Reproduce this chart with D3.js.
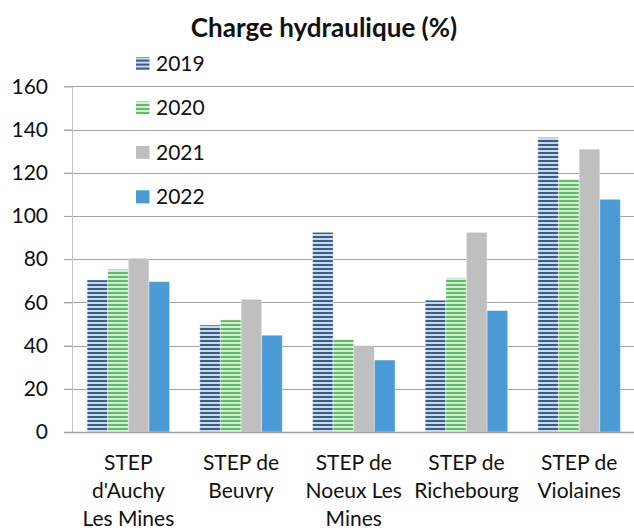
<!DOCTYPE html>
<html>
<head>
<meta charset="utf-8">
<script src="https://cdn.jsdelivr.net/npm/d3@7"></script>
<style>
  body { margin: 0; background: #fff; }
  svg { display: block; font-family: Lato, "Open Sans", sans-serif; }
</style>
</head>
<body>
<script>
// Chart values
var categories = ["STEP d'Auchy Les Mines", "STEP de Beuvry", "STEP de Noeux Les Mines", "STEP de Richebourg", "STEP de Violaines"];
var categoryLines = [["STEP", "d'Auchy", "Les Mines"], ["STEP de", "Beuvry"], ["STEP de", "Noeux Les", "Mines"], ["STEP de", "Richebourg"], ["STEP de", "Violaines"]];
var years = ["2019", "2020", "2021", "2022"];
var v2019 = [70.4, 49.5, 92.4, 61, 136.3];
var v2020 = [75.3, 51.9, 42.9, 71.4, 117];
var v2021 = [80.4, 61.4, 40, 92.4, 130.9];
var v2022 = [69.6, 44.8, 33.3, 56.2, 107.7];
var yTicks = [0, 20, 40, 60, 80, 100, 120, 140, 160];

var chartWidth = 634, chartHeight = 530;
var plotLeft = 72, plotRight = 635.5, plotTop = 86.3, plotBottom = 432;
var labelSize = 21;

var svg = d3.select('body').append('svg')
  .attr('width', chartWidth)
  .attr('height', chartHeight);

// striped fills for 2019 and 2020
var defs = svg.append('defs');
function stripes(id, dark, light) {
  var p = defs.append('pattern')
    .attr('id', id)
    .attr('patternUnits', 'userSpaceOnUse')
    .attr('width', 8).attr('height', 4);
  p.append('rect').attr('width', 8).attr('height', 4).attr('fill', light);
  p.append('rect').attr('width', 8).attr('height', 2).attr('fill', dark);
}
stripes('pat2019', '#3a5e86', '#c6d9ed');
stripes('pat2020', '#5fbb65', '#d4eed5');

var fills = ['url(#pat2019)', 'url(#pat2020)', '#bfbfbf', '#4a9bd5'];
var table = categories.map(function(c, i) {
  return { cat: c, values: [v2019[i], v2020[i], v2021[i], v2022[i]] };
});

var y = d3.scaleLinear().domain([0, 160]).range([plotBottom, plotTop]);
var x0 = d3.scaleBand().domain(categories).range([plotLeft, plotRight])
  .paddingInner(0.268).paddingOuter(0.134);
var x1 = d3.scaleBand().domain(years).range([0, x0.bandwidth()]);

// gridlines
svg.append('g').selectAll('line')
  .data(yTicks.slice(1))
  .enter().append('line')
  .attr('x1', 64).attr('x2', chartWidth)
  .attr('y1', function(d) { return Math.round(y(d)) + 0.5; })
  .attr('y2', function(d) { return Math.round(y(d)) + 0.5; })
  .attr('stroke', '#a3a3a3')
  .attr('stroke-width', 1.2);

// y axis
var yAxis = svg.append('g')
  .attr('transform', 'translate(' + plotLeft + ',0)')
  .call(d3.axisLeft(y).tickValues(yTicks).tickSize(8).tickPadding(16));
yAxis.select('.domain').attr('stroke', '#c4c4c4');
yAxis.selectAll('.tick line').attr('stroke', '#a3a3a3');
yAxis.selectAll('.tick text')
  .attr('font-size', labelSize)
  .attr('font-family', 'Lato, "Open Sans", sans-serif')
  .attr('fill', '#111');

// bars
var groups = svg.append('g').selectAll('g')
  .data(table)
  .enter().append('g')
  .attr('transform', function(d) { return 'translate(' + x0(d.cat) + ',0)'; });

groups.selectAll('rect')
  .data(function(d) { return d.values.map(function(v, j) { return { year: years[j], value: v, j: j }; }); })
  .enter().append('rect')
  .attr('x', function(d) { return x1(d.year); })
  .attr('width', x1.bandwidth())
  .attr('y', function(d) { return y(d.value); })
  .attr('height', function(d) { return plotBottom - y(d.value); })
  .attr('fill', function(d) { return fills[d.j]; })
  .attr('stroke', 'rgba(255,255,255,0.4)')
  .attr('stroke-width', 1);

// x axis line
svg.append('line')
  .attr('x1', 64).attr('x2', chartWidth)
  .attr('y1', plotBottom + 0.5).attr('y2', plotBottom + 0.5)
  .attr('stroke', '#a0a0a0')
  .attr('stroke-width', 1.5);

// category labels
var labels = svg.append('g').selectAll('text')
  .data(categories)
  .enter().append('text')
  .attr('text-anchor', 'middle')
  .attr('font-size', labelSize)
  .attr('fill', '#111')
  .attr('x', function(d) { return x0(d) + x0.bandwidth() / 2; });
labels.each(function(d, i) {
  var t = d3.select(this);
  categoryLines[i].forEach(function(line, k) {
    t.append('tspan')
      .attr('x', x0(d) + x0.bandwidth() / 2)
      .attr('y', 470 + k * 28)
      .text(line);
  });
});

// title
svg.append('text')
  .attr('x', 324)
  .attr('y', 37)
  .attr('text-anchor', 'middle')
  .attr('font-size', 26)
  .attr('font-weight', 'bold')
  .attr('fill', '#111')
  .text('Charge hydraulique (%)');

// legend
var legend = svg.append('g').selectAll('g')
  .data(years)
  .enter().append('g')
  .attr('transform', function(d, i) { return 'translate(136,' + (63.6 + i * 44.4) + ')'; });
legend.append('rect')
  .attr('y', -6.5)
  .attr('width', 13.5).attr('height', 13)
  .attr('fill', function(d, i) { return fills[i]; });
legend.append('text')
  .attr('x', 20)
  .attr('dy', '0.35em')
  .attr('font-size', labelSize)
  .attr('fill', '#111')
  .text(function(d) { return d; });
</script>
</body>
</html>
